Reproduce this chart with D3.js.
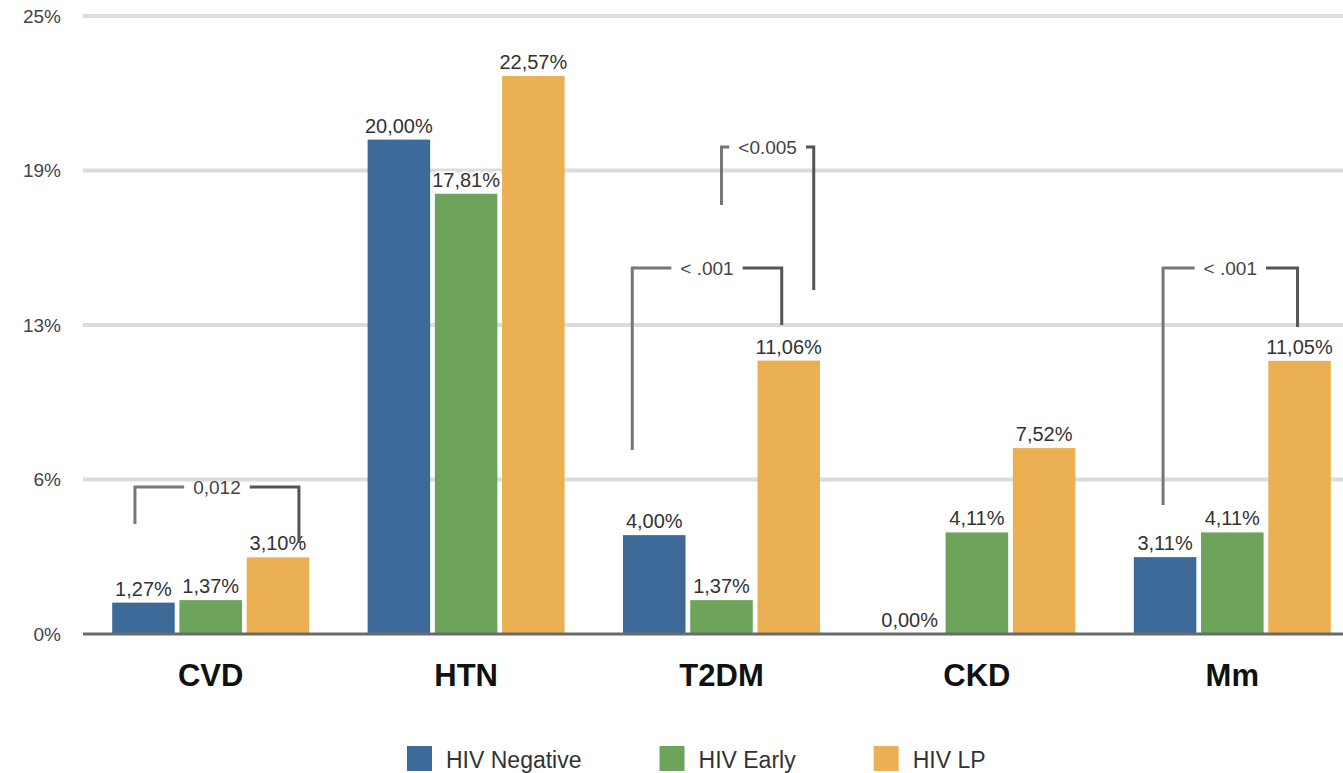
<!DOCTYPE html>
<html><head><meta charset="utf-8">
<script src="https://cdn.jsdelivr.net/npm/d3@7/dist/d3.min.js"></script>
<style>body{margin:0;background:#fff;}svg{display:block;font-family:"Liberation Sans",Arial,sans-serif;}</style>
</head><body>
<svg id="chart" width="1343" height="773"></svg>
<script>
const categories = ["CVD","HTN","T2DM","CKD","Mm"];
const series = ["HIV Negative","HIV Early","HIV LP"];
const hivNegative = [1.27, 20.00, 4.00, 0.00, 3.11];
const hivEarly    = [1.37, 17.81, 1.37, 4.11, 4.11];
const hivLP       = [3.10, 22.57, 11.06, 7.52, 11.05];
const tickValues = [0, 6.25, 12.5, 18.75, 25];
const tickLabels = ["0%","6%","13%","19%","25%"];
const colors = ["#3d6a99","#6da35a","#eab052"];
// significance annotations: category, from series, to series, p label, top level, left end, right end (in %)
const sigCats  = ["CVD","T2DM","T2DM","Mm"];
const sigLabels = ["0,012","< .001","<0.005","< .001"];
const sigFrom = [0,0,1,0];
const sigTo   = [2,2,2,2];
const sigTop  = [5.95,14.81,19.70,14.81];
const sigLeftEnd  = [4.45,7.44,17.35,5.22];
const sigRightEnd = [3.68,12.5,13.92,12.42];

const values = [hivNegative, hivEarly, hivLP];
const svg = d3.select("#chart");
const left = 83, right = 1343, baseY = 634, topY = 16;
const step = 255.4;
const x0 = d3.scaleBand().domain(categories).range([left, left + step*categories.length]).padding(0);
const x1 = d3.scaleBand().domain(series).range([29.2, 226.2]).paddingInner(0.07).paddingOuter(0);
const y = d3.scaleLinear().domain([0,25]).range([baseY, topY]);
const fmt = v => v.toFixed(2).replace(".", ",") + "%";

// gridlines
svg.append("g").selectAll("line").data(tickValues.filter(v=>v>0)).join("line")
  .attr("x1", left).attr("x2", right).attr("y1", d=>y(d)).attr("y2", d=>y(d))
  .attr("stroke", "#dcdcdc").attr("stroke-width", 4);

// y axis labels via d3 axis
const yAxis = d3.axisLeft(y).tickValues(tickValues).tickFormat((d,i)=>tickLabels[i]).tickSize(0).tickPadding(0);
const ya = svg.append("g").attr("transform", "translate(61,0)").call(yAxis);
ya.select(".domain").remove();
ya.selectAll("text").attr("font-size", 19).attr("fill", "#444").attr("font-family", "Liberation Sans, Arial, sans-serif");

// bars
const groups = svg.append("g").selectAll("g").data(categories).join("g")
  .attr("transform", d => `translate(${x0(d)},0)`);
groups.selectAll("rect").data((c,ci)=> series.map((s,si)=>({s, si, v: values[si][ci]}))).join("rect")
  .attr("x", d=>x1(d.s)).attr("width", x1.bandwidth())
  .attr("y", d=>y(d.v)).attr("height", d=>baseY - y(d.v))
  .attr("fill", d=>colors[d.si]);

// baseline
svg.append("line").attr("x1", left).attr("x2", right).attr("y1", baseY).attr("y2", baseY)
  .attr("stroke", "#6a6a6a").attr("stroke-width", 3);

// value labels
groups.selectAll("text.val").data((c,ci)=> series.map((s,si)=>({s, si, v: values[si][ci]}))).join("text")
  .attr("class","val")
  .attr("x", d=>x1(d.s) + x1.bandwidth()/2).attr("y", d=>y(d.v) - 7)
  .attr("text-anchor","middle").attr("font-size", 20).attr("fill","#333")
  .attr("stroke","#fff").attr("stroke-width",4).attr("paint-order","stroke")
  .text(d=>fmt(d.v));

// category labels
const xAxis = d3.axisBottom(x0).tickSize(0).tickPadding(0);
const xa = svg.append("g").attr("transform", `translate(0,${baseY+30})`).call(xAxis);
xa.select(".domain").remove();
xa.selectAll("text").attr("font-size", 31).attr("font-weight","bold").attr("fill","#111")
  .attr("font-family","Liberation Sans, Arial, sans-serif");

// significance brackets
const dxL = [-8.5,-22,0,-2], dxR = [21,-7,25,-2];
const ann = svg.append("g");
sigCats.forEach((c,i)=>{
  const xl = x0(c) + x1(series[sigFrom[i]]) + x1.bandwidth()/2 + dxL[i];
  const xr = x0(c) + x1(series[sigTo[i]]) + x1.bandwidth()/2 + dxR[i];
  const yt = y(sigTop[i]);
  const t = ann.append("text").attr("x", (xl+xr)/2).attr("y", yt).attr("dy","0.35em")
    .attr("text-anchor","middle").attr("font-size",19).attr("fill","#444").text(sigLabels[i]);
  const w = t.node().getComputedTextLength();
  const tl = (xl+xr)/2 - w/2 - 9, tr = (xl+xr)/2 + w/2 + 9;
  const pathL = d3.path(); pathL.moveTo(xl, y(sigLeftEnd[i])); pathL.lineTo(xl, yt); pathL.lineTo(Math.max(tl, xl), yt);
  const pathR = d3.path(); pathR.moveTo(Math.min(tr, xr), yt); pathR.lineTo(xr, yt); pathR.lineTo(xr, y(sigRightEnd[i]));
  ann.append("path").attr("d", pathL.toString()).attr("fill","none").attr("stroke","#777").attr("stroke-width",3);
  ann.append("path").attr("d", pathR.toString()).attr("fill","none").attr("stroke","#555").attr("stroke-width",3);
});

// legend
const lg = svg.append("g");
let lx = 407;
series.forEach((s,i)=>{
  lg.append("rect").attr("x", lx).attr("y", 746).attr("width", 25).attr("height", 25).attr("fill", colors[i]);
  const t = lg.append("text").attr("x", lx+39).attr("y", 760).attr("dy","0.35em")
    .attr("font-size", 23).attr("fill","#333").text(s);
  lx = lx + 39 + t.node().getComputedTextLength() + 78;
});
</script>
</body></html>
